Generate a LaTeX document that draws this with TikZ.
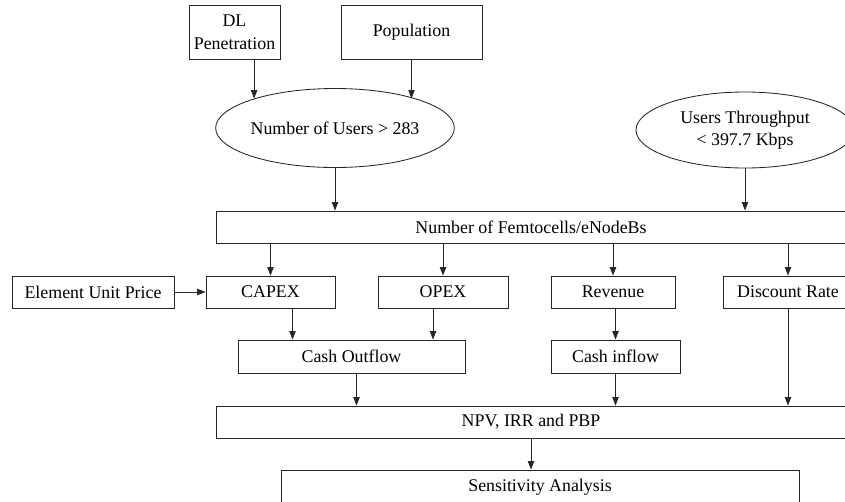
\documentclass[tikz,border=0pt]{standalone}
\usepackage{fontspec}
\setmainfont{Liberation Serif}
\usetikzlibrary{arrows.meta, shapes.geometric}
\newcommand{\unitpx}{0.025cm}
\tikzset{
  box/.style   = {draw=black!85, line width=0.6pt, minimum height=32*\unitpx, align=center, inner sep=0pt, font=\fontsize{12.7}{15}\selectfont},
  oval/.style  = {draw=black!85, line width=0.6pt, ellipse, align=center, inner sep=0pt, font=\fontsize{12.7}{15}\selectfont},
  arrow/.style = {-{Triangle[length=6pt, width=4.5pt]}, line width=0.6pt, black!85}
}
\begin{document}
\begin{tikzpicture}[x=\unitpx, y=-\unitpx]
  \useasboundingbox (0,0) rectangle (845,501);

  \node[box, minimum width=91*\unitpx, minimum height=54*\unitpx] (dl) at (234.5,32) {DL\\[1pt]Penetration};
  \node[box, minimum width=141*\unitpx, minimum height=54*\unitpx] (pop) at (411.5,32) {Population};
  \node[oval, minimum width=215*\unitpx, minimum height=79*\unitpx] (users) at (335,128) {Number of Users > 283};
  \node[oval, minimum width=218*\unitpx, minimum height=76*\unitpx] (thr) at (745,130) {Users Throughput\\[1pt]< 397.7 Kbps};

  \node[box, minimum width=630*\unitpx] (femto) at (531,227) {Number of Femtocells/eNodeBs};

  \node[box, minimum width=162*\unitpx] (eup) at (93,292) {Element Unit Price};
  \node[box, minimum width=129*\unitpx] (capex) at (270.5,292) {CAPEX};
  \node[box, minimum width=130*\unitpx] (opex) at (443,292) {OPEX};
  \node[box, minimum width=124*\unitpx] (rev) at (613,292) {Revenue};
  \node[box, minimum width=130*\unitpx] (disc) at (788,292) {Discount Rate};

  \node[box, minimum width=227*\unitpx, minimum height=33*\unitpx] (cout) at (351.5,356.5) {Cash Outflow};
  \node[box, minimum width=129*\unitpx, minimum height=33*\unitpx] (cin) at (615.5,356.5) {Cash inflow};

  \node[box, minimum width=630*\unitpx] (npv) at (531,422) {NPV, IRR and PBP};
  \node[box, minimum width=518*\unitpx, minimum height=34*\unitpx] (sens) at (540,487) {Sensitivity Analysis};

  \coordinate (capexout) at ([shift={(22,0)}]capex.south);
  \coordinate (opexout) at ([shift={(-10,0)}]opex.south);
  \coordinate (coutout) at ([shift={(5,0)}]cout.south);

  \draw[arrow] (dl.south -| users.160) -- (users.160);
  \draw[arrow] (pop.south) -- (pop.south |- users.20);
  \draw[arrow] (users.south) -- (users.south |- femto.north);
  \draw[arrow] (thr.south) -- (thr.south |- femto.north);
  \foreach \n in {capex, opex, rev, disc}
    \draw[arrow] (\n.north |- femto.south) -- (\n.north);
  \draw[arrow] (eup) -- (capex);
  \draw[arrow] (capexout) -- (capexout |- cout.north);
  \draw[arrow] (opexout) -- (opexout |- cout.north);
  \draw[arrow] (cin.north |- rev.south) -- (cin.north);
  \draw[arrow] (coutout) -- (coutout |- npv.north);
  \draw[arrow] (cin.south) -- (cin.south |- npv.north);
  \draw[arrow] (disc.south) -- (disc.south |- npv.north);
  \draw[arrow] (npv.south) -- (npv.south |- sens.north);
\end{tikzpicture}
\end{document}
